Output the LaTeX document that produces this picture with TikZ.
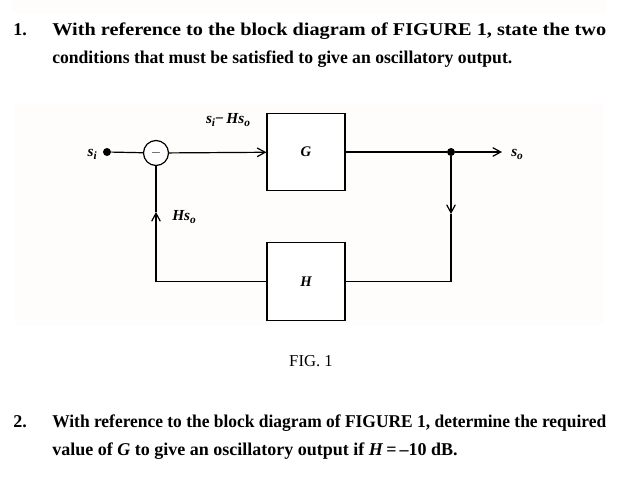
\documentclass[tikz,border=0pt]{standalone}
\usepackage{fontspec}
\usepackage{graphicx}
\setmainfont{Liberation Serif}
\usetikzlibrary{arrows.meta}
\definecolor{panel}{RGB}{254,253,251}
\newcommand{\qline}[2]{\resizebox{#1}{\height}{#2}}
\newcommand{\bi}[1]{{\bfseries\itshape #1}}
\newcommand{\lsub}[1]{\raisebox{-0.55ex}{\fontsize{8.5}{8.5}\selectfont\bfseries\itshape #1}}
\tikzset{
  blk/.style={draw,line width=0.9pt,fill=white,minimum width=58.5pt,minimum height=58pt,inner sep=0pt,font=\fontsize{11}{13}\selectfont},
  arr/.style={-{Straight Barb[length=6pt,width=6.5pt,line width=0.9pt]}},
  wire/.style={line width=0.9pt},
  dot/.style={circle,fill=black,inner sep=0pt,minimum size=6pt},
  lbl/.style={font=\fontsize{11.5}{13}\selectfont,inner sep=0pt},
  qtext/.style={anchor=base west,inner sep=0pt,font=\fontsize{13.5}{16}\selectfont\bfseries}
}
\begin{document}
\begin{tikzpicture}[x=0.75pt,y=0.75pt,yscale=-1,xscale=1]
\useasboundingbox (0,0) rectangle (639,483);

% pale panels behind text and figure
\fill[panel] (12,0) rectangle (606,13);
\fill[panel] (15,104) rectangle (603,325);

% Question 1
\node[qtext] (n1) at (13,35) {1.};
\node[qtext] (q1a) at (52,35) {\qline{415.5pt}{With reference to the block diagram of FIGURE 1, state the two}};
\node[qtext] (q1b) at (52,63) {\qline{345pt}{conditions that must be satisfied to give an oscillatory output.}};

% Block diagram
\node[dot] (si) at (107,152) {};
\node[draw,circle,line width=0.9pt,fill=white,minimum size=18.75pt,inner sep=0pt] (sum) at (156,153) {\fontsize{10}{10}\selectfont $-$};
\node[blk] (G) at (306,152) {\bi{G}};
\node[blk] (H) at (306,281.5) {\bi{H}};
\node[dot] (jn) at (451,152) {};
\coordinate (out) at (502,152);
\coordinate (dn) at (451,214);
\coordinate (rc) at (451,281.5);
\coordinate (lc) at (156,281.5);
\coordinate (up) at (156,212);

\draw[wire] (si) -- (sum);
\draw[wire,arr] (sum) -- (G);
\draw[wire] (G) -- (jn);
\draw[wire,arr] (jn) -- (out);
\draw[wire,arr] (jn) -- (dn);
\draw[wire] (dn) -- (rc) -- (H);
\draw[wire] (H) -- (lc);
\draw[wire,arr] (lc) -- (up);
\draw[wire] (up) -- (sum);

% Labels
\node[lbl,anchor=base east] (lsi) at (97,156) {\bi{s}\lsub{i}};
\node[lbl,anchor=base] (lerr) at (228,123) {\bi{s}\lsub{i}\textbf{−}\,\bi{Hs}\lsub{o}};
\node[lbl,anchor=base west] (lfb) at (172,220) {\bi{Hs}\lsub{o}};
\node[lbl,anchor=base west] (lso) at (511,156) {\bi{s}\lsub{o}};

% Caption
\node[anchor=base,inner sep=0pt,font=\fontsize{12.5}{15}\selectfont] (cap) at (311,366) {FIG. 1};

% Question 2
\node[qtext] (n2) at (13,427) {2.};
\node[qtext] (q2a) at (52,427) {\qline{415.5pt}{With reference to the block diagram of FIGURE 1, determine the required}};
\node[qtext] (q2b) at (52,455) {\qline{304pt}{value of \textit{G} to give an oscillatory output if \textit{H}\,=\,–10 dB.}};

\end{tikzpicture}
\end{document}
